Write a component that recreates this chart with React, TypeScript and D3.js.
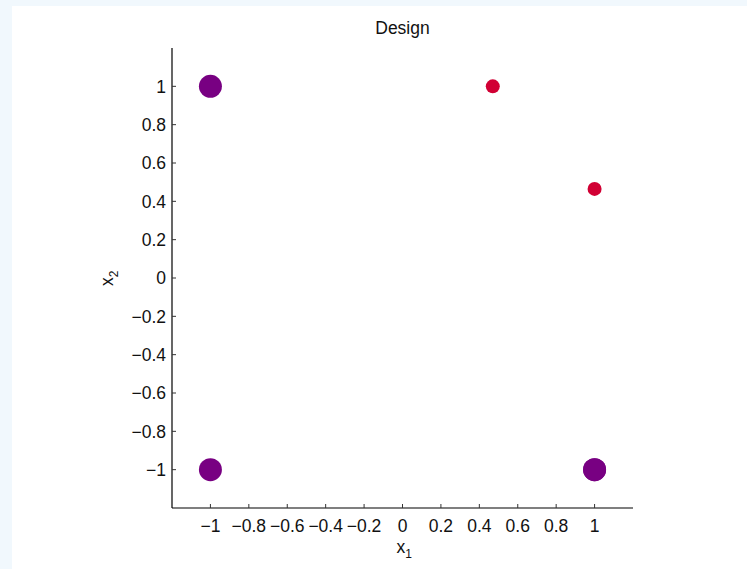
import React from "react";
import * as d3 from "d3";

// design points
const cornerX = [-1, -1, 1, 1];
const cornerY = [1, -1, -1, -1];
const extraX = [0.47, 1];
const extraY = [1, 0.465];
const tickValues = [-1, -0.8, -0.6, -0.4, -0.2, 0, 0.2, 0.4, 0.6, 0.8, 1];

const width = 747;
const height = 569;
const margin = { top: 48, right: 114, bottom: 60, left: 172 };

const fmt = (v: number) => (Math.abs(v) < 1e-9 ? "0" : String(+v.toFixed(1)).replace("-", "\u2212"));

export default function App() {
  const x = d3.scaleLinear().domain([-1.2, 1.2]).range([margin.left, width - margin.right]);
  const y = d3.scaleLinear().domain([-1.2, 1.2]).range([height - margin.bottom - 1, margin.top]);
  const x0 = margin.left;
  const yb = y(-1.2);
  const font = "'Liberation Sans', Arial, sans-serif";

  return (
    <svg
      width={width}
      height={height}
      style={{ position: "absolute", left: 0, top: 0, fontFamily: font }}
    >
      <rect x={0} y={0} width={width} height={height} fill="#f1f8fd" />
      <rect x={12} y={6} width={width - 12} height={height - 6} fill="#ffffff" />

      <text x={x(0)} y={34} textAnchor="middle" fontSize={17.5} fill="#111">
        Design
      </text>

      {/* axes */}
      <line x1={x0} x2={x0} y1={y(1.2)} y2={yb} stroke="#000" strokeWidth={1.2} />
      <line x1={x0} x2={x(1.2)} y1={yb} y2={yb} stroke="#000" strokeWidth={1.2} />

      {tickValues.map((t) => (
        <g key={"y" + t}>
          <line x1={x0} x2={x0 + 4} y1={y(t)} y2={y(t)} stroke="#333" />
          <text x={x0 - 6} y={y(t)} dy="0.36em" textAnchor="end" fontSize={17.5} fill="#111">
            {fmt(t)}
          </text>
        </g>
      ))}
      {tickValues.map((t) => (
        <g key={"x" + t}>
          <line x1={x(t)} x2={x(t)} y1={yb} y2={yb - 4} stroke="#333" />
          <text x={x(t)} y={yb + 24} textAnchor="middle" fontSize={17.5} fill="#111">
            {fmt(t)}
          </text>
        </g>
      ))}

      <text x={x(0) - 6} y={553} fontSize={17.5} fill="#111">
        x<tspan fontSize={12} dy={5}>1</tspan>
      </text>
      <text transform={`translate(113, ${y(0) + 8}) rotate(-90)`} fontSize={17.5} fill="#111">
        x<tspan fontSize={12} dy={5}>2</tspan>
      </text>

      {cornerX.map((cx, i) => (
        <circle key={"c" + i} cx={x(cx)} cy={y(cornerY[i])} r={11.5} fill="#780082" />
      ))}
      {extraX.map((cx, i) => (
        <circle key={"e" + i} cx={x(cx)} cy={y(extraY[i])} r={7} fill="#d10034" />
      ))}
    </svg>
  );
}
